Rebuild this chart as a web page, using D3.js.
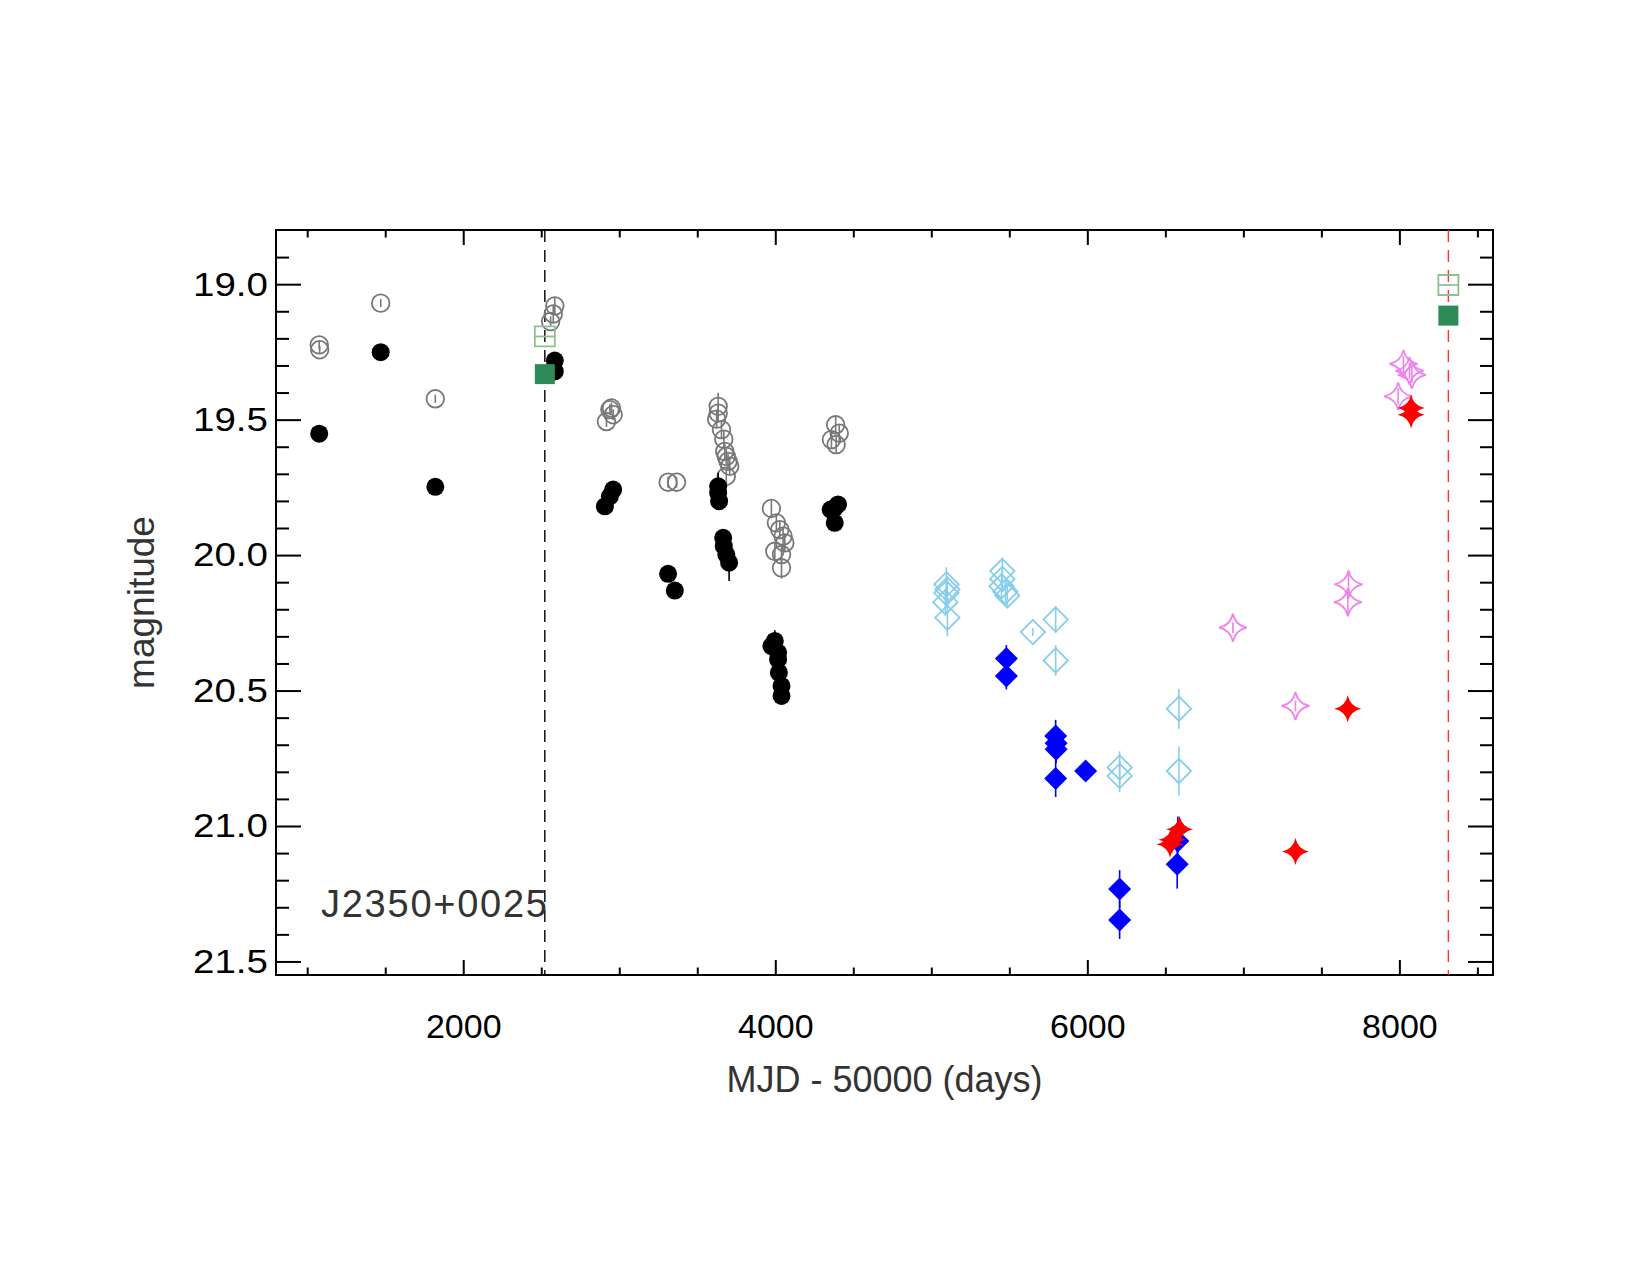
<!DOCTYPE html>
<html>
<head>
<meta charset="utf-8">
<script src="https://cdn.jsdelivr.net/npm/d3@7"></script>
<style>
  body { margin: 0; background: #fff; }
  text { font-family: "Liberation Sans", Arial, Helvetica, sans-serif; }
</style>
</head>
<body>
<div id="chart"></div>
<script>
// light curve of J2350+0025, magnitude vs MJD - 50000

// gray open circles [day, mag, err]
const grayOpen = [
  [1077, 19.224, 0.015], [1080, 19.242, 0.015], [1471, 19.07, 0.015], [1821, 19.423, 0.015],
  [2560, 19.138, 0.02], [2577, 19.11, 0.03], [2587, 19.08, 0.03],
  [2918, 19.507, 0.02], [2940, 19.463, 0.02], [2961, 19.482, 0.02], [2950, 19.457, 0.02],
  [3313, 19.731, 0.02], [3367, 19.731, 0.02],
  [3634, 19.451, 0.05], [3634, 19.476, 0.03], [3624, 19.498, 0.03], [3655, 19.537, 0.03],
  [3670, 19.572, 0.03], [3676, 19.617, 0.03], [3686, 19.636, 0.03], [3697, 19.654, 0.03],
  [3708, 19.672, 0.03], [3686, 19.709, 0.03],
  [3975, 19.828, 0.03], [4007, 19.881, 0.03], [4029, 19.906, 0.03], [4050, 19.93, 0.03],
  [4061, 19.955, 0.03], [3997, 19.986, 0.03], [4040, 19.998, 0.03], [4040, 20.047, 0.04],
  [4387, 19.519, 0.03], [4410, 19.55, 0.03], [4360, 19.574, 0.03], [4390, 19.592, 0.03]
];

// black filled circles
const blackFilled = [
  [1077, 19.552, 0.015], [1471, 19.251, 0.015], [1821, 19.748, 0.015],
  [2587, 19.282, 0.02], [2587, 19.322, 0.02],
  [2908, 19.82, 0.02], [2940, 19.783, 0.02], [2961, 19.758, 0.02],
  [3313, 20.069, 0.02], [3356, 20.131, 0.02],
  [3634, 19.746, 0.05], [3634, 19.771, 0.03], [3640, 19.801, 0.03],
  [3666, 19.936, 0.03], [3670, 19.967, 0.03], [3686, 19.998, 0.03], [3704, 20.028, 0.068],
  [3975, 20.336, 0.04], [3997, 20.317, 0.04], [4018, 20.36, 0.03], [4018, 20.385, 0.03],
  [4023, 20.434, 0.03], [4040, 20.483, 0.03], [4040, 20.52, 0.03],
  [4381, 19.826, 0.03], [4381, 19.881, 0.03], [4402, 19.813, 0.03], [4355, 19.832, 0.03]
];

// green squares
const greenOpen = [[2523, 19.193, 0], [8314, 19.003, 0]];
const greenFilled = [[2523, 19.332, 0], [8314, 19.116, 0]];

// light blue open diamonds
const skyOpen = [
  [5103, 20.127, 0.05], [5097, 20.108, 0.063], [5090, 20.174, 0.05], [5103, 20.231, 0.069],
  [5097, 20.14, 0.04],
  [5455, 20.059, 0.05], [5455, 20.088, 0.04], [5450, 20.115, 0.04], [5487, 20.149, 0.04],
  [5475, 20.135, 0.04],
  [5651, 20.284, 0.015], [5797, 20.238, 0.049], [5797, 20.389, 0.057],
  [6207, 20.784, 0.06], [6207, 20.815, 0.06],
  [6587, 20.567, 0.074], [6587, 20.797, 0.09]
];

// blue filled diamonds
const blueFilled = [
  [5481, 20.382, 0.05], [5481, 20.446, 0.05],
  [5797, 20.668, 0.06], [5800, 20.695, 0.05], [5800, 20.717, 0.05], [5797, 20.825, 0.068],
  [5989, 20.797, 0.02],
  [6207, 21.233, 0.07], [6207, 21.347, 0.07],
  [6580, 21.055, 0.09], [6576, 21.141, 0.09]
];

// violet open stars
const violetOpen = [
  [6933, 20.268, 0.02], [7334, 20.557, 0.02], [7674, 20.108, 0.04], [7670, 20.174, 0.04],
  [8026, 19.294, 0.03], [8065, 19.32, 0.03], [8080, 19.335, 0.03], [7992, 19.414, 0.03]
];

// red filled stars
const redFilled = [
  [6591, 21.012, 0.02], [6544, 21.051, 0.02], [6530, 21.067, 0.02],
  [7334, 21.094, 0.02], [7669, 20.567, 0.02], [8075, 19.457, 0.02], [8075, 19.482, 0.02]
];

// vertical reference lines
const refLines = [[2523, "#000"], [8314, "#ff3030"]];

const xMajor = [2000, 4000, 6000, 8000];
const xMinor = d3.range(1000, 8600, 500);
const yMajor = [19.0, 19.5, 20.0, 20.5, 21.0, 21.5];
const yMinor = d3.range(18.9, 21.55, 0.1).map(v => +v.toFixed(1));

const W = 1650, H = 1275;
const plot = {left: 276, right: 1493, top: 230, bottom: 975};

const svg = d3.select("#chart").append("svg")
  .attr("width", W).attr("height", H);

const x = d3.scaleLinear().domain([800, 8600]).range([plot.left, plot.right]);
const y = d3.scaleLinear().domain([18.8, 21.55]).range([plot.top, plot.bottom]);

// axes: ticks point inward
function addAxis(axis, tr, vals, size, fmt, pad) {
  const g = svg.append("g").attr("transform", tr)
    .call(axis.tickValues(vals).tickSizeInner(-size).tickSizeOuter(0).tickPadding(pad).tickFormat(fmt));
  g.select(".domain").remove();
  g.selectAll(".tick line").attr("stroke", "#000").attr("stroke-width", 2);
  return g;
}
const noLab = () => "";

const xb = addAxis(d3.axisBottom(x), `translate(0,${plot.bottom})`, xMajor, 15, d3.format("d"), 39);
xb.selectAll("text").attr("font-size", 34).attr("fill", "#000");
addAxis(d3.axisBottom(x), `translate(0,${plot.bottom})`, xMinor.filter(v => !xMajor.includes(v)), 7.5, noLab, 0);
addAxis(d3.axisTop(x), `translate(0,${plot.top})`, xMajor, 15, noLab, 0);
addAxis(d3.axisTop(x), `translate(0,${plot.top})`, xMinor.filter(v => !xMajor.includes(v)), 7.5, noLab, 0);

const yl = addAxis(d3.axisLeft(y), `translate(${plot.left},0)`, yMajor, 25, d3.format(".1f"), 8);
yl.selectAll("text").attr("font-size", 34).attr("fill", "#000")
  .attr("textLength", 75).attr("lengthAdjust", "spacingAndGlyphs");
addAxis(d3.axisLeft(y), `translate(${plot.left},0)`, yMinor.filter(v => !yMajor.includes(v)), 13, noLab, 0);
addAxis(d3.axisRight(y), `translate(${plot.right},0)`, yMajor, 25, noLab, 0);
addAxis(d3.axisRight(y), `translate(${plot.right},0)`, yMinor.filter(v => !yMajor.includes(v)), 13, noLab, 0);

// frame
svg.append("rect")
  .attr("x", plot.left).attr("y", plot.top)
  .attr("width", plot.right - plot.left).attr("height", plot.bottom - plot.top)
  .attr("fill", "none").attr("stroke", "#000").attr("stroke-width", 2);

// dashed reference lines
svg.selectAll(".ref").data(refLines).enter().append("line")
  .attr("x1", d => x(d[0])).attr("x2", d => x(d[0]))
  .attr("y1", plot.top).attr("y2", plot.bottom)
  .attr("stroke", d => d[1]).attr("stroke-width", 1.4)
  .attr("stroke-dasharray", "12,8");

// marker shapes
const diamond = r => `M0,${-r}L${r},0L0,${r}L${-r},0Z`;
const star = r => {
  const c = r * 0.17;
  return `M0,${-r}Q${c},${-c} ${r},0Q${c},${c} 0,${r}Q${-c},${c} ${-r},0Q${-c},${-c} 0,${-r}Z`;
};
const square = r => `M${-r},${-r}H${r}V${r}H${-r}Z`;
const circle = r => `M${r},0A${r},${r} 0 1,1 ${-r},0A${r},${r} 0 1,1 ${r},0Z`;

function series(data, color, shapeFn, size, filled, extra) {
  const g = svg.append("g");
  // error bars
  g.selectAll("line.err").data(data.filter(d => d[2] > 0)).enter().append("line")
    .attr("x1", d => x(d[0])).attr("x2", d => x(d[0]))
    .attr("y1", d => y(d[1] - d[2])).attr("y2", d => y(d[1] + d[2]))
    .attr("stroke", color).attr("stroke-width", 1.6);
  const m = g.selectAll("path.mk").data(data).enter().append("path")
    .attr("transform", d => `translate(${x(d[0])},${y(d[1])})`)
    .attr("d", shapeFn(size));
  if (filled) m.attr("fill", color).attr("stroke", "none");
  else m.attr("fill", "none").attr("stroke", color).attr("stroke-width", 1.8);
  if (extra) extra(g, data);
}

series(grayOpen, "#777777", circle, 8.8, false);
series(blackFilled, "#000000", circle, 9, true);
series(greenOpen, "#8fc18f", square, 10, false, (g, data) => {
  g.selectAll("line.mid").data(data).enter().append("line")
    .attr("x1", d => x(d[0]) - 10).attr("x2", d => x(d[0]) + 10)
    .attr("y1", d => y(d[1])).attr("y2", d => y(d[1]))
    .attr("stroke", "#8fc18f").attr("stroke-width", 1.8);
});
series(greenFilled, "#2e8b57", square, 10, true);
series(skyOpen, "#87ceeb", diamond, 12.2, false);
series(blueFilled, "#0000ff", diamond, 11.5, true);
series(violetOpen, "#ee82ee", star, 14, false);
series(redFilled, "#ff0000", star, 13.5, true);

// labels
svg.append("text")
  .attr("x", (plot.left + plot.right) / 2).attr("y", 1092)
  .attr("text-anchor", "middle").attr("font-size", 36).attr("fill", "#333")
  .text("MJD - 50000 (days)");

svg.append("text")
  .attr("transform", `translate(154,${(plot.top + plot.bottom) / 2}) rotate(-90)`)
  .attr("text-anchor", "middle").attr("font-size", 37).attr("fill", "#333")
  .text("magnitude");

svg.append("text")
  .attr("x", 321).attr("y", 917)
  .attr("font-size", 38).attr("fill", "#333")
  .attr("textLength", 226).attr("lengthAdjust", "spacing")
  .text("J2350+0025");
</script>
</body>
</html>
